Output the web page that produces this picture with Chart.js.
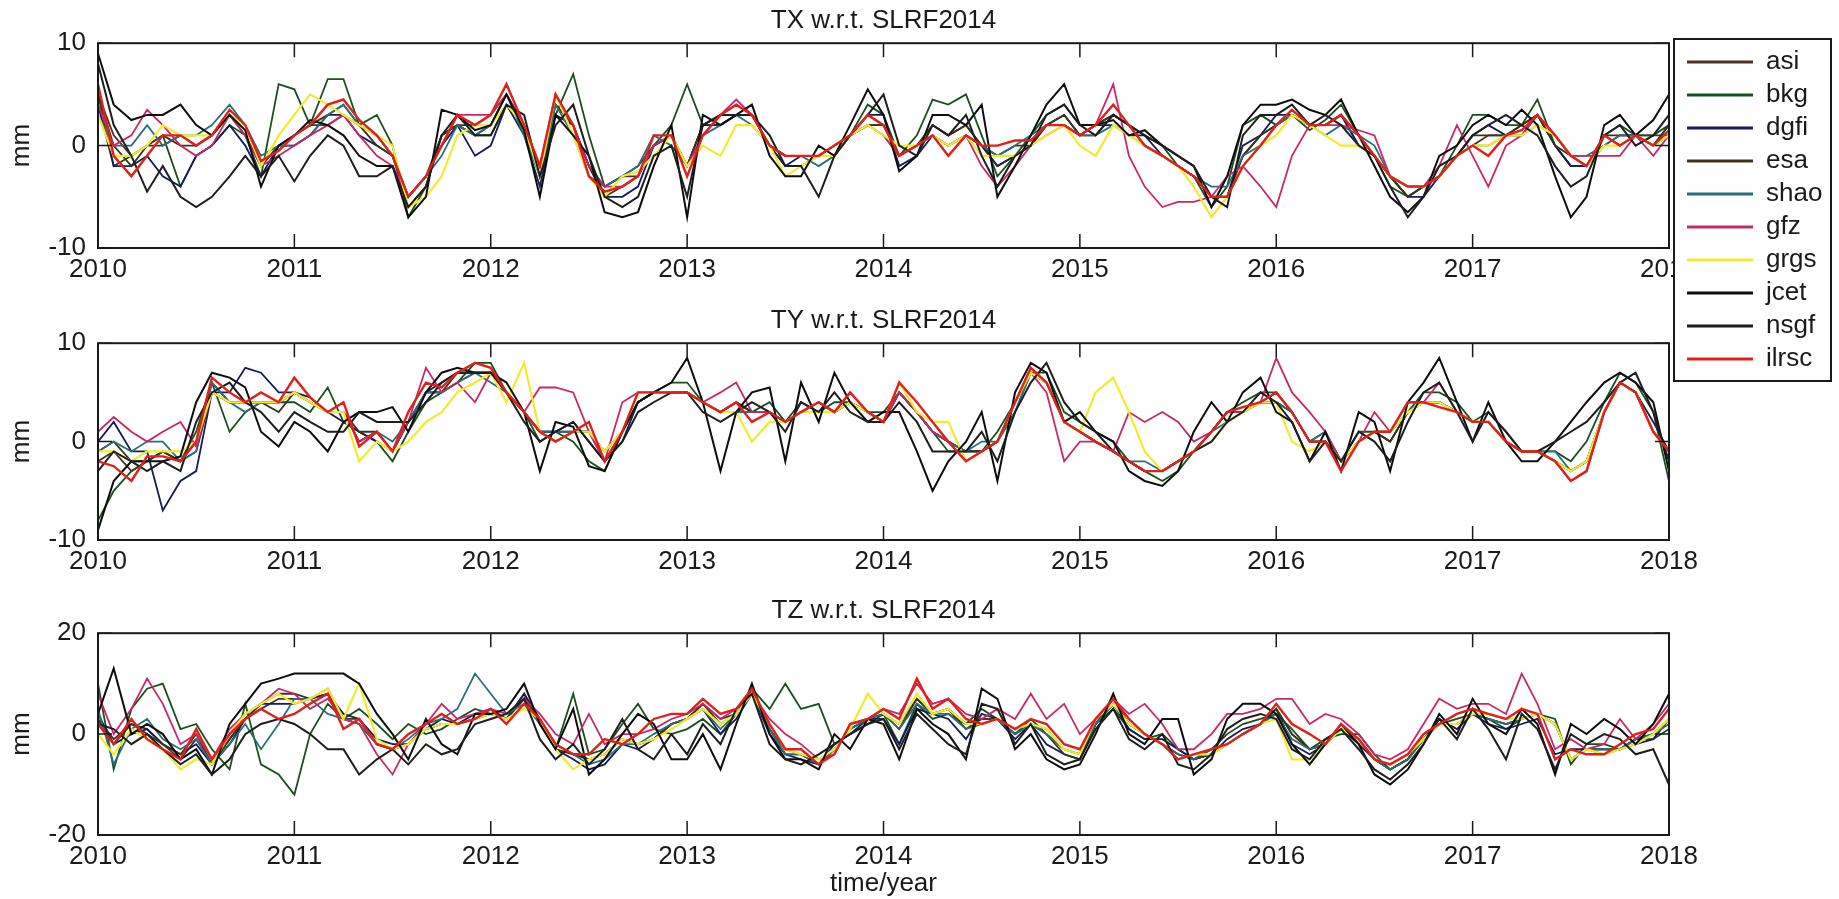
<!DOCTYPE html>
<html>
<head>
<meta charset="utf-8">
<script src="https://cdn.jsdelivr.net/npm/chart.js@4.4.1/dist/chart.umd.min.js"></script>
<style>
  body { margin: 0; background: #fff; width: 1839px; height: 899px; overflow: hidden; position: relative; }
  canvas { position: absolute; left: 0; }
  #p1 { top: 0; }
  #p2 { top: 300px; }
  #p3 { top: 590px; }
  #lg { left: 1673px; top: 38px; }
</style>
</head>
<body>
<canvas id="p1" width="1839" height="300"></canvas>
<canvas id="p2" width="1839" height="292"></canvas>
<canvas id="p3" width="1839" height="309"></canvas>
<canvas id="lg" width="159" height="344"></canvas>
<script>
// monthly epochs, decimal years
const epochs = [
  2010.00,2010.08,2010.17,2010.25,2010.33,2010.42,2010.50,2010.58,2010.67,2010.75,2010.83,2010.92,
  2011.00,2011.08,2011.17,2011.25,2011.33,2011.42,2011.50,2011.58,2011.67,2011.75,2011.83,2011.92,
  2012.00,2012.08,2012.17,2012.25,2012.33,2012.42,2012.50,2012.58,2012.67,2012.75,2012.83,2012.92,
  2013.00,2013.08,2013.17,2013.25,2013.33,2013.42,2013.50,2013.58,2013.67,2013.75,2013.83,2013.92,
  2014.00,2014.08,2014.17,2014.25,2014.33,2014.42,2014.50,2014.58,2014.67,2014.75,2014.83,2014.92,
  2015.00,2015.08,2015.17,2015.25,2015.33,2015.42,2015.50,2015.58,2015.67,2015.75,2015.83,2015.92,
  2016.00,2016.08,2016.17,2016.25,2016.33,2016.42,2016.50,2016.58,2016.67,2016.75,2016.83,2016.92,
  2017.00,2017.08,2017.17,2017.25,2017.33,2017.42,2017.50,2017.58,2017.67,2017.75,2017.83,2017.92,
  2018.00
];

const seriesNames = ['asi', 'bkg', 'dgfi', 'esa', 'shao', 'gfz', 'grgs', 'jcet', 'nsgf', 'ilrsc'];
const seriesColors = ['#4a3028', '#1a4f1e', '#161c5a', '#3d3418', '#2a6f78', '#c8286a', '#f2ea2e', '#0d0d0d', '#1e1e1e', '#e0201c'];
const seriesWidths = [1.8, 1.8, 1.8, 1.8, 1.8, 1.8, 2.2, 2, 2, 2.4];

// TX (mm)
const txAsi = [5,1,-1,0,0,1,0,1,3,1,-2,0, 1,2,2,3,2,1,-1,-5,-3,1,2,2, 3,5,2,-3,4,2,-2,-4,-3,-3,0,1, -2,2,3,3,3,0,-1,-1,-1,-1,1,2, 2,-1,0,2,1,2,0,-2,-1,0,2,2, 1,1,3,2,0,-1,-2,-3,-5,-5,-1,1, 2,3,2,2,3,0,-1,-3,-5,-4,-3,-1, 0,1,1,2,3,0,-2,-2,1,0,1,1, 1];
const txBkg = [5,-2,-1,0,1,-4,-1,0,2,1,-3,6, 5.5,2,6.5,6.5,2,3,0,-7,-4,1,2,1, 1,4,2,-3,3,7,1,-4,-3,-2,0,2, 6,2,2,3,3,0,-2,-2,-1,-1,1,4, 3,-1,1,4.5,4,5,1,-3,-1,1,3,4, 2,2,3,2,1,0,-2,-3,-6,-4,2,3, 2,3,1.5,2.5,4,1,-1,-4,-5,-4,-3,0, 3,3,2,2,4.5,0,-2,-2,1,2,1,1, 2];
const txDgfi = [4,-2,-2,-1,-3,-4,-1,0,2,0,-3,0, 0,1,3,3,1,0,-1,-5,-3,0,2,-1, 0,4,1,-4,3,2,-2,-5,-5,-4,0,1, -2,2,2,3,3,0,-2,-1,-1,-1,1,3, 3,-2,-1,1,0,1,0,-2,-1,0,2,3, 1,2,2,1,1,-1,-2,-3,-5,-5,0,1, 3,3,2,2,3,0,-1,-3,-5,-5,-3,-1, 1,2,1,1,3,0,-2,-2,0,1,1,0, 2];
const txEsa = [5,0,-2,0,1,0,0,1,3,2,-2,0, 1,2,3,4,2,0,-1,-6,-4,1,2,1, 2,5,2,-2,4,2,-2,-5,-4,-3,0,1, -2,2,3,3,3,0,-1,-1,-1,0,1,2, 2,-1,0,2,1,2,0,-1,0,0,2,3, 1,2,3,2,0,-1,-2,-3,-5,-5,-1,1, 2,3,2,2,3,1,-1,-3,-5,-4,-3,-1, 1,1,1,2,3,0,-1,-2,1,1,1,0, 2];
const txShao = [3,0,0,2,0,1,1,2,4,2,-1,0, 0,1,3,4,2,1,-1,-5,-3,-1,2,1, 2,5,1,-3,4,1,-3,-4,-3,-2,1,0, -2,1,2,3,2,0,-1,-1,-2,-1,1,2, 1,-1,0,1,0,1,0,-1,0,1,2,2, 1,1,2,1,0,-1,-2,-3,-4,-4,-1,0, 2,3,2,1,2,1,0,-3,-4,-4,-3,-1, 0,0,1,1,2,1,-1,-1,0,1,1,0, 1];
const txGfz = [4,0,1,3.5,2,0,-1,0,3,1,-2,-1, 0,1,2,3,1,-1,-2,-5,-3,0,3,3, 3,5,2,-2,5,2,-2,-4,-4,-3,0,1, -2,1,3,4.5,3,0,-1,-1,-1,0,1,2, 1,-1,0,1,0,1,-2,-4,-2,0,1,2, 1,2,6,-1,-4,-6,-5.5,-5.5,-5,-3,-2,-4, -6,-1,2,2,2,1.5,1,-3,-4,-4,-2,2, -1,-4,0,1,3,1,-1,-1,-1,-1,1,-1, 1];
const txGrgs = [3,-1,-1,0,2,1,1,1,3,2,-2,1, 3,5,4,3,2,1,0,-6,-5,-3,1,2, 2,4,2,-3,5,1,-3,-5,-3,-2.5,-1,1, -2,0,-1,2,2,0,-3,-2,-1,-1,1,2, 1,0,0,1,0,1,-1,-1,-1,0,1,2, 0,-1,2,1,0,-1,-2,-4,-7,-5,-2,0, 1,3,2,1,0,0,-1,-3,-4,-4,-3,-1, 0,0,1,1,2,1,-1,-2,0,0,1,0, 1];
const txJcet = [9,4,2.5,3,3,4,2,1,3,1.5,-4,0, 1,2.5,2,1,-1,-2,-2,-7,-5,3.5,3,1.5, 2,5,1.5,-5,3,1,-1,-6.5,-7,-6.5,-2,2, -7,3,2,3,4,-1,-3,-3,0,-1,2,5.5, 3,-2.5,-1,3,3,2,4,-5,-2,1,4,6, 2,2,2.5,1,1.5,0,-1,-2,-6,-3,2,4, 4,4.5,3.5,3,4.5,1,-2,-5,-6.5,-5,-1,0, 2,3,2,3.5,2,-3,-7,-5,2,3,1,2.5, 5];
const txNsgf = [8,2,-1,-4.5,-2,-5,-6,-5,-3,-1,-3,-1, -3.5,-1,1,0,-3,-3,-2,-6,-4,1,3,1, 1,4,3,-3,2,4,-1,-5,-6,-5,-1,0, -5,2,3,3,3,1,-2,-2,-5,-1,1,3, 5,0,-1,2,1,3,-1,-4,-1,0,3,4, 2,1,3,2,1,0,-1,-2,-5,-6,1,3, 3,4,2,3,2,0,-1,-4,-7,-5,-2,-1, 1,2,3,2,1,-2,-4,-3,1,2,0,1, 3];
const txIlrsc = [6,-1,-3,-1,1,1,0,1,3.5,2,-1.5,-0.5, 1,2,4,4.5,2.5,1,-1,-5,-3,0,3,2, 3,6,2,-2,5,2,-3,-4.5,-4,-3,1,1, -3,1,3,4,3,0,-1,-1,-1,0,1,3, 2,-1,0,1,-1,1,0,0,0.5,0.5,2,2, 1,2,4,2,0,-1,-2,-3,-5,-5,-2,0, 2,3.5,2,2,3,1,-1,-3,-4,-4,-3,-1, 0,-1,1,1.5,3,1,-1,-2,1,0,1,0, 1.5];

// TY (mm)
const tyAsi = [-2,-1,-3,-2,-1,-2,0,6,4,4,4,4, 5,4,3,3,0,1,-1,2,5,5,6,7, 7,5,3,1,1,1,1,-2,1,4,5,5, 5,4,3,4,3,3,2,3,3,3,4,3, 2,5,3,1,0,-1,-1,0,4,7,6,2, 1,0,-1,-2,-3,-3,-2,-1,1,3,3,4, 4,3,0,0,-2,0,1,1,3,4,4,3, 2,2,0,-1,-1,-2,-3,-2,3,6,5,1, -1];
const tyBkg = [-8,-5,-3,-2,-1,-2,1,6,1,3,4,4, 4,3,5.5,2,1,0,-2,1,4,5,6,8, 8,5,3,0,1,0,-2,-3,1,4,5,6, 6,4,3,3,3,4,2,4,3,4,4,3, 3,5,3,1,-1,-1,-1,1,4,7,7,3, 2,1,0,-2,-3,-4,-3,-1,1,3,4,5, 5,3,0,1,-2,1,1,0,3,5,5,4, 2,3,1,-1,-1,-1,-2,0,4,7,6,3, -4];
const tyDgfi = [0,2,-1,-1,-7,-4,-3,5,5,7.5,7,5, 5,4.5,3,2,1,0,-1,2,5,6,7,7, 7,5,3,1,1,2,0,-2,0,4,5,5, 5,4,3,4,3,3,2,3,3,3,4,3, 2,5,3,1,0,-1,-1,0,3,7,6,2, 1,0,-1,-2,-3,-3,-2,-1,1,3,3,4, 4,3,0,0,-2,0,1,0,3,4,4,3, 2,2,0,-1,-1,-2,-3,-2,3,6,5,2, -1];
const tyEsa = [-1,0,-2,-2,-1,-2,-1,5,4,4,4,3, 5,4,3,3,1,1,-1,2,5,5,7,7, 7,5,3,1,0,1,1,-1,1,4,5,5, 5,4,3,4,3,3,2,3,4,3,4,3, 2,5,3,1,0,-1,-1,0,4,7,6,2, 1,0,-1,-2,-3,-3,-2,-1,1,3,3,4, 5,3,0,0,-2,0,1,0,3,4,4,3, 2,2,0,-1,-1,-2,-3,-2,3,6,5,1, -1];
const tyShao = [-1,0,-1,0,0,-2,-1,6,4,3,4,4, 5,4,3,3,0,1,0,2,5,5,6,7, 6,5,3,1,1,1,1,-1,1,4,5,5, 5,4,3,3,3,3,2,3,3,3,4,3, 2,5,3,1,0,-1,0,0,3,7,6,2, 1,0,-1,-2,-2,-3,-2,-1,1,2,3,4, 4,3,0,1,-2,0,1,1,3,4,4,3, 2,2,0,-1,-1,-1,-3,-2,3,6,5,1, -1];
const tyGfz = [1,2.5,1,0,1,2,-0.5,5,4,4,4,4, 5,4,3,3,0,1,-1,2,7.5,5,6,4, 7,5,3,5.5,5.5,5,1,-2,4,5,5,5, 5,4,5,6,3,3,2,3,3,3,4,3, 2,5,3,1,0,-2,-1,0,4,7,5,-2, 0,0,-1,3,2,3,2,0,1,3,3,4, 8.5,5,3,1,-2,0,3,1,4,4,6,3, 2,2,0,-1,-1,-2,-4,-3,3,6,5,1, -1];
const tyGrgs = [-1,-1,-2,-1,-1,-1,0,5,4,4,4,4, 5,4,3,3,-2,0,-1,0,2,3,5,6, 7,4,8,1,0,1,1,-1,1,5,5,5, 5,4,3,3,0,2,2,3,3,3,4,3, 2,6,3,2,2,-2,-1,0,4,7,6,2, 1,5,6.5,3,-1,-3,-2,-1,0,2,3,4, 4,0,-1,0,-2,0,1,1,3,4,4,3, 2,2,0,-1,-1,-2,-3,-2,3,6,5,1, -1];
const tyJcet = [-9,-4,-2,-2,-2,-1.5,4,7,6.5,5.5,1,-0.5, 2,1,-1,2,3,3,3.5,1,5,7,7.5,7, 7,6,3,-3,2,1.5,-2.5,-3,1,4,5,6, 8.5,4,-3,3,5,5.5,-2,6,2,7,4,2, 3,3,-1,-5,-2,0,3,-4,5,8,7,2, 3,1,0,-3,-4,-4.5,-3,1,4,2,5,6.5, 3,2,-2,1,-3,3,2,-3,4,6,8.5,4, 0,4,0,-2,-2,0,2,4,6,7,6,4, -3];
const tyNsgf = [-3,-1,-2,-3,-2,-3,2,5,6,4,3,1, 3,2,1,1,3,2,2,2,4,6,7,7, 7,5,2,0,1,2,0,-2,0,3,4,5, 5,3,2,3,4,3,1,4,3,5,3,2, 2,4,2,-1,-1,-1,1,-2,3,6,8,4, 2,1,-1,-2,-3,-3,-2,-1,0,2,3,5, 4,2,-2,0,-2,1,0,-2,2,5,6,3, 0,3,1,-1,-1,0,1,2,4,6,7,3, -2];
const tyIlrsc = [-2,-2.5,-4,-1.5,-1.5,-2,0,6.5,5,4,5,4, 6.5,4.5,3,4,-0.5,1,-1,3,6,5.5,7,8, 7.5,5,3,1,0,1,2,-2,1,5,5,5, 5,4,3,4,2,3,2,3,4,3,5,3, 2,6,4,2,0,-2,-1,0,4,7.5,6,2, 1,0,-1,-2,-3,-3,-2,-1,1,3,3.5,4, 5,3,0,0,-3,0,1,1,4,4,3.5,3, 2,2,0,-1,-1,-2,-4,-3,3,6,5,1, -1];

// TZ (mm)
const tzAsi = [3,-1,2,1,-2,-5,-1,-6,-1,3,5,7, 7,7,8,3,2,-2,-3,-2,1,2,2,3, 4,3,7,3,-2,-4,-5,-4,-1,-2,-1,2, 3,6,3,4,8,1,-3,-4,-6,-3,1,3, 4,2,7,4,5,2,3,3,0,2,1,-3, -4,2,6,2,0,-2,-4,-5,-4,-2,0,2, 5,0,-3,-2,1,-1,-5,-7,-5,-1,2,2, 4,3,2,3,4,2,-5,-3,-4,-3,-1,0, 3];
const tzBkg = [10,-7,5,9,10,1,2,-3,-7,6,-6,-8, -12,0,6,3,5,2,-1,2,0,1,3,5, 4,3,8,2,-3,8,-4,-3,2,6,1,0, 1,3,0,4,9,5,10,5,6,-2,0,2, 4,-2,6,3,4,2,5,3,0,3,0,-3, -4,2,5,1,-1,0,-3,-5,-3,0,2,3, 4,1,-3,-1,0,0,-4,-7,-5,0,2,3, 4,3,1,3,4,3,-6,-2,-2,-3,-1,-1, 1];
const tzDgfi = [4,-2,0,1,-2,-4,-2,-6,-2,3,6,6, 6,7,8,4,3,-1,-2,-2,1,3,2,4, 5,3,8,3,-3,-5,-7,-6,-2,-3,-1,2, 3,5,0,3,8,0,-4,-5,-6,-2,0,3, 3,-2,5,4,3,-1,4,3,-1,2,-2,-4, -5,2,6,1,-1,-1,-3,-5,-4,-1,1,2, 5,-2,-4,-2,1,-2,-5,-7,-5,-1,3,1, 4,2,1,2,3,-4,-3,-3,-3,-3,-2,-1, 3];
const tzEsa = [3,-2,2,0,-2,-4,0,-6,-1,3,6,8, 8,7,9,3,3,-2,-3,-2,1,2,2,3, 4,3,7,3,-3,-4,-5,-4,-1,-2,-1,2, 3,6,2,4,9,1,-4,-4,-6,-3,1,3, 4,1,7,4,5,1,3,3,0,2,0,-4, -5,2,7,2,0,-2,-4,-5,-4,-2,0,2, 5,0,-3,-2,1,-1,-5,-7,-5,-1,2,2, 4,3,2,3,4,2,-5,-3,-3,-3,-1,0, 3];
const tzShao = [5,-6,1,3,-1,-3,-1,-6,-2,2,-3,2, 7,7,4,3,2,-2,-3,-1,2,3,5,12, 8,4,6,2,-2,-4,-6,-5,-2,-2,0,2, 3,5,1,4,8,1,-4,-4,-6,-3,1,3, 4,1,6,4,4,1,2,3,0,2,0,-3, -4,2,6,2,0,-2,-4,-5,-3,-2,0,2, 4,-1,-3,-2,1,-1,-5,-7,-5,-1,2,2, 4,3,2,3,4,2,-5,-3,-3,-3,-1,0, 2];
const tzGfz = [8,0,5,11,6,-2,0,-5,1,4,6,9, 8,5,7,3,2,-4,-8,-2,2,6,3,4, 5,4,7,4,0,-2,4,-2,0,0,1,3, 4,6,3,5,8,3,0,-2,-5,-4,2,3, 5,4,10,6,7,4,3,5,3,8,3,6, 0,3,7,4,6,2,-3,-3,0,4,4,5, 7,7,2,4,3,0,-4,-5,-3,2,7,5, 6,6,4,12,6,-3,-1,-3,-2,3,-1,2, 6];
const tzGrgs = [0,-4,1,-1,-3,-7,-5,-6,0,4,6,8, 6,7,9,3,10,-1,-3,-2,1,2,2,3, 4,3,5,3,-3,-7,-5,-4,-1,-2,-1,1, 3,5,2,4,8,2,-3,-4,-5,-3,1,8, 4,2,8,4,5,2,2,3,1,2,1,-3, -4,3,6,2,0,-2,-5,-4,-4,-2,0,2, 3,-5,-5,-2,1,-1,-5,-6,-4,-1,2,2, 4,4,3,3,4,2,-5,-3,-4,-3,-2,0, 3];
const tzJcet = [4,13,0,2,0,-5,-3,-8,2,6,10,11, 12,12,12,12,10,4,0,-5,3,-2,-4,4, 4,5,10,2,-3,5,-8,-5,0,4,2,-5, -5,0,-7,2,10,0,-5,-5,-7,0,-3,3, 2,-5,5,2,0,-5,9,7,-3,0,-5,-7, -6,0,8,0,-2,3,3,-8,-5,3,6,6, 4,-2,-6,-2,2,-2,-8,-10,-7,-2,4,0, 7,2,0,5,2,-8,2,0,3,1,-2,2, 8];
const tzNsgf = [2,1,-2,0,-3,-6,-4,-8,-5,0,2,3, 2,0,-3,-3,-8,-5,-3,-6,-2,-4,-3,2, 3,4,7,-1,-5,-2,-6,-3,3,-3,-5,0, -4,2,-2,5,8,-2,-5,-6,-4,-2,0,2, 3,-3,4,1,-2,-4,6,5,-2,2,-4,-6, -5,1,5,-1,-3,0,-6,-7,-4,1,3,4, 3,-3,-5,-1,1,-3,-7,-9,-6,-2,3,-1, 5,1,-5,4,1,-7,0,-2,0,-1,-4,-3, -10];
const tzIlrsc = [2,-2,3,-1,-3,-5,1,-5,0,3,5,3, 4,6,8,1,3,-2,-3,0,2,4,2,3, 5,2,6,3,-2,-4,-4,-1,-2,0,3,4, 4,7,4,5,9,2,-3,-3,-6,-4,2,3, 5,3,11,5,7,3,2,3,1,3,2,-2, -3,3,7,3,0,-2,-5,-4,-3,-2,0,2, 6,2,0,-2,2,-1,-5,-6,-4,0,2,4, 5,4,3,5,4,-5,-3,-4,-4,-2,0,1, 5];

const ink = '#1a1a1a';
Chart.defaults.font.family = "'Liberation Sans', Arial, Helvetica, sans-serif";
Chart.defaults.color = ink;

function pts(vals) {
  return vals.map((v, i) => ({ x: epochs[i], y: v }));
}

// box round the axes plus inward ticks, matlab style
const frame = {
  id: 'frame',
  afterDatasetsDraw(chart) {
    const { ctx, chartArea: a, scales: { x, y } } = chart;
    ctx.save();
    ctx.strokeStyle = ink;
    ctx.lineWidth = 2;
    ctx.strokeRect(a.left, a.top, a.right - a.left, a.bottom - a.top);
    ctx.lineWidth = 1.5;
    ctx.beginPath();
    x.ticks.forEach(t => {
      const px = x.getPixelForValue(t.value);
      ctx.moveTo(px, a.bottom); ctx.lineTo(px, a.bottom - 14);
      ctx.moveTo(px, a.top); ctx.lineTo(px, a.top + 14);
    });
    y.ticks.forEach(t => {
      const py = y.getPixelForValue(t.value);
      ctx.moveTo(a.left, py); ctx.lineTo(a.left + 14, py);
      ctx.moveTo(a.right, py); ctx.lineTo(a.right - 14, py);
    });
    ctx.stroke();
    ctx.restore();
  }
};

function panel(id, title, series, lim, xTitle, xHeight) {
  new Chart(document.getElementById(id), {
    type: 'line',
    data: {
      datasets: series.map((vals, i) => ({
        label: seriesNames[i],
        data: pts(vals),
        borderColor: seriesColors[i],
        borderWidth: seriesWidths[i],
        pointRadius: 0,
        tension: 0,
        fill: false,
        order: series.length - i
      }))
    },
    options: {
      responsive: false,
      animation: false,
      events: [],
      layout: { padding: { left: 0, right: 170, top: 0, bottom: 0 } },
      plugins: {
        legend: { display: false },
        tooltip: { enabled: false },
        title: {
          display: true, text: title, fullSize: false, color: ink,
          font: { size: 26, weight: 'normal' },
          padding: { top: 5, bottom: 7 }
        }
      },
      scales: {
        x: {
          type: 'linear', min: 2010, max: 2018,
          ticks: { stepSize: 1, padding: 6, color: ink, font: { size: 26 }, maxRotation: 0, autoSkip: false, callback: v => String(v) },
          grid: { display: false, drawTicks: false },
          border: { display: false },
          title: { display: !!xTitle, text: xTitle || '', color: ink, font: { size: 26 }, padding: 0 },
          afterFit: s => { s.height = xHeight; }
        },
        y: {
          min: -lim, max: lim,
          ticks: { stepSize: lim, padding: 12, color: ink, font: { size: 26 } },
          grid: { display: false, drawTicks: false },
          border: { display: false },
          title: { display: true, text: 'mm', color: ink, font: { size: 26 }, padding: { top: 6, bottom: 0 } },
          afterFit: s => { s.width = 98; }
        }
      }
    },
    plugins: [frame]
  });
}

panel('p1', 'TX w.r.t. SLRF2014', [txAsi, txBkg, txDgfi, txEsa, txShao, txGfz, txGrgs, txJcet, txNsgf, txIlrsc], 10, null, 52);
panel('p2', 'TY w.r.t. SLRF2014', [tyAsi, tyBkg, tyDgfi, tyEsa, tyShao, tyGfz, tyGrgs, tyJcet, tyNsgf, tyIlrsc], 10, null, 52);
panel('p3', 'TZ w.r.t. SLRF2014', [tzAsi, tzBkg, tzDgfi, tzEsa, tzShao, tzGfz, tzGrgs, tzJcet, tzNsgf, tzIlrsc], 20, 'time/year', 64);

// legend box
const legendBox = {
  id: 'legendBox',
  beforeDraw(chart) {
    const { ctx, width, height } = chart;
    ctx.save();
    ctx.fillStyle = '#fff';
    ctx.fillRect(0, 0, width, height);
    ctx.restore();
  },
  afterDraw(chart) {
    const { ctx, width, height } = chart;
    ctx.save();
    ctx.strokeStyle = ink;
    ctx.lineWidth = 2;
    ctx.strokeRect(1, 1, width - 2, height - 2);
    ctx.restore();
  }
};

new Chart(document.getElementById('lg'), {
  type: 'line',
  data: {
    datasets: seriesNames.map((n, i) => ({
      label: n, data: [], borderColor: seriesColors[i], backgroundColor: seriesColors[i], borderWidth: 3
    }))
  },
  options: {
    responsive: false,
    animation: false,
    events: [],
    layout: { padding: { left: 7, top: 4, right: 0, bottom: 0 } },
    scales: { x: { display: false }, y: { display: false } },
    plugins: {
      tooltip: { enabled: false },
      legend: {
        position: 'left', align: 'start', maxWidth: 158,
        labels: { usePointStyle: true, pointStyle: 'line', pointStyleWidth: 66, padding: 7, color: ink, font: { size: 26 } }
      }
    }
  },
  plugins: [legendBox]
});
</script>
</body>
</html>
